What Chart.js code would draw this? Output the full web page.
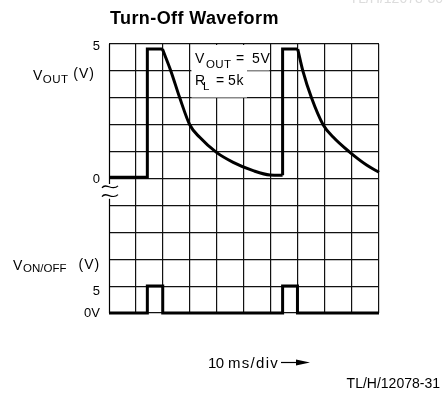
<!DOCTYPE html>
<html>
<head>
<meta charset="utf-8">
<title>Turn-Off Waveform</title>
<script src="https://cdn.jsdelivr.net/npm/chart.js@4.4.1/dist/chart.umd.min.js"></script>
<style>
  html, body { margin: 0; padding: 0; background: #fff; }
  #wrap { width: 446px; height: 394px; }
</style>
</head>
<body>
<div id="wrap"><canvas id="scope" width="446" height="394"></canvas></div>
<script>
/* ---------- Data (time in ms, 10 ms/div; volts) ---------- */
// V_OUT step up on each enable pulse
const rise1T = [0, 14.2, 14.2, 19.8];
const rise1V = [0.05, 0.05, 4.81, 4.81];
const rise2T = [64.3, 64.3, 69.9];
const rise2V = [0.12, 4.81, 4.81];

// V_OUT decay after turn-off (R_L = 5k)
const decay1T = [19.8, 22.9, 26.2, 29.9, 33.6, 39.8, 46.0, 53.4, 59.6, 64.3];
const decay1V = [4.81, 4.0, 3.0, 2.0, 1.53, 0.97, 0.6, 0.29, 0.13, 0.12];
const decay2T = [69.9, 71.8, 75.0, 79.3, 83.1, 88.9, 95.4, 100];
const decay2V = [4.81, 4.0, 3.0, 2.0, 1.53, 1.0, 0.5, 0.23];

// ON/OFF control pulses
const onOffT = [0, 14.2, 14.2, 19.9, 19.9, 64.3, 64.3, 69.8, 69.8, 100];
const onOffV = [0, 0, 5, 5, 0, 0, 5, 5, 0, 0];

// tick labels on the left edge
const voutTicks = [5, 0];
const voutTickLabels = ["5", "0"];
const onOffTicks = [5, 0];
const onOffTickLabels = ["5", "0V"];

const FONT = "'Liberation Sans', Arial, sans-serif";

function pts(t, v) {
    return t.map((x, i) => ({ x, y: v[i] }));
}

function trace(t, v, axis, smooth) {
    return {
        data: pts(t, v),
        yAxisID: axis,
        borderColor: "#000",
        borderWidth: 3,
        pointRadius: 0,
        fill: false,
        clip: false,
        borderJoinStyle: "miter",
        cubicInterpolationMode: smooth ? "monotone" : "default",
        tension: 0
    };
}

/* ---------- text helpers ---------- */
function txt(ctx, s, x, y, px, align, weight, spacing) {
    ctx.font = (weight || "normal") + " " + px + "px " + FONT;
    ctx.letterSpacing = (spacing || 0) + "px";
    ctx.textAlign = align || "left";
    ctx.textBaseline = "alphabetic";
    ctx.fillStyle = "#000";
    ctx.fillText(s, x, y);
    ctx.letterSpacing = "0px";
}

/* ---------- decorations ---------- */
const scopeDecor = {
    id: "scopeDecor",
    beforeDatasetsDraw(chart) {
        const ctx = chart.ctx;
        const a = chart.chartArea;
        const yo = chart.scales.yOut;
        ctx.save();

        // left border with break below the V_OUT zero line
        const brkTop = yo.getPixelForValue(-0.2);
        const brkBot = yo.getPixelForValue(-0.75);
        ctx.strokeStyle = "#000";
        ctx.lineWidth = 1.2;
        ctx.beginPath();
        ctx.moveTo(a.left + 0.5, a.top);
        ctx.lineTo(a.left + 0.5, brkTop);
        ctx.moveTo(a.left + 0.5, brkBot);
        ctx.lineTo(a.left + 0.5, a.bottom);
        ctx.stroke();
        [brkTop + 3, brkBot - 3].forEach(y => {
            ctx.beginPath();
            ctx.moveTo(a.left - 7, y + 1);
            ctx.bezierCurveTo(a.left - 3, y - 5, a.left + 3, y + 5, a.left + 9, y - 1);
            ctx.stroke();
        });

        // annotation block over the grid
        ctx.fillStyle = "#fff";
        ctx.fillRect(191.5, 45, 78, 25.5);
        ctx.fillRect(191.5, 70, 55.5, 27.5);
        txt(ctx, "V", 195, 62.5, 14);
        txt(ctx, "OUT", 206, 68, 11.5, "left", "normal", 0.4);
        txt(ctx, "=", 236, 62.5, 14);
        txt(ctx, "5V", 252, 62.5, 14, "left", "normal", 0.6);
        txt(ctx, "R", 195, 85, 14);
        txt(ctx, "L", 203, 90, 11.5);
        txt(ctx, "=", 216, 85, 14);
        txt(ctx, "5k", 228, 85, 14, "left", "normal", 0.6);
        ctx.restore();
    },
    afterDraw(chart) {
        const ctx = chart.ctx;
        const yo = chart.scales.yOut;
        const yc = chart.scales.yOnOff;
        ctx.save();

        // title
        txt(ctx, "Turn-Off Waveform", 110, 24, 18, "left", "bold", 0.4);

        // axis names
        txt(ctx, "V", 33, 80, 14);
        txt(ctx, "OUT", 42.7, 82.7, 11.5, "left", "normal", 0.5);
        txt(ctx, "(V)", 73.3, 78, 14, "left", "normal", 1);
        txt(ctx, "V", 13, 270, 14);
        txt(ctx, "ON/OFF", 23, 272, 11.5);
        txt(ctx, "(V)", 78.5, 269, 14, "left", "normal", 1);

        // tick labels from the two vertical scales
        const voutDy = [6, 4];
        voutTicks.forEach((v, i) => {
            txt(ctx, voutTickLabels[i], 100, yo.getPixelForValue(v) + voutDy[i], 13, "right");
        });
        const onOffDy = [8.5, 3.7];
        onOffTicks.forEach((v, i) => {
            txt(ctx, onOffTickLabels[i], 100, yc.getPixelForValue(v) + onOffDy[i], 13, "right");
        });

        // time base caption with arrow
        txt(ctx, "10", 208, 368, 15, "left", "normal", -0.5);
        txt(ctx, "ms/div", 228, 368, 15, "left", "normal", 1.3);
        ctx.strokeStyle = "#000";
        ctx.lineWidth = 1.2;
        ctx.beginPath();
        ctx.moveTo(281, 362.5);
        ctx.lineTo(300, 362.5);
        ctx.stroke();
        ctx.fillStyle = "#000";
        ctx.beginPath();
        ctx.moveTo(310, 362.5);
        ctx.lineTo(296, 359.5);
        ctx.lineTo(296, 365.5);
        ctx.closePath();
        ctx.fill();

        txt(ctx, "TL/H/12078-31", 440, 388.3, 14, "right");
        ctx.fillStyle = "#dcdcdc";
        ctx.font = "14px " + FONT;
        ctx.textAlign = "right";
        ctx.fillText("TL/H/12078-30", 443, 3);
        ctx.restore();
    }
};

/* ---------- Chart ---------- */
function gridOpts(hideFirst) {
    return {
        color: c => (hideFirst && c.index === 0) ? "rgba(0,0,0,0)" : "#111",
        lineWidth: 1.2,
        drawTicks: false
    };
}

function init() {
    const ctx = document.getElementById("scope").getContext("2d");
    new Chart(ctx, {
        type: "line",
        data: {
            datasets: [
                trace(rise1T, rise1V, "yOut", false),
                trace(decay1T, decay1V, "yOut", true),
                trace(rise2T, rise2V, "yOut", false),
                trace(decay2T, decay2V, "yOut", true),
                trace(onOffT, onOffV, "yOnOff", false)
            ]
        },
        options: {
            responsive: false,
            animation: false,
            devicePixelRatio: 1,
            layout: { padding: { left: 109, right: 67, top: 44, bottom: 81 } },
            plugins: { legend: { display: false }, tooltip: { enabled: false } },
            scales: {
                x: {
                    type: "linear",
                    min: 0, max: 100,
                    ticks: { display: false, stepSize: 10 },
                    grid: gridOpts(true),
                    border: { display: false },
                    afterFit: s => { s.height = 0; }
                },
                yOut: {
                    type: "linear",
                    position: "left",
                    min: -5, max: 5,
                    ticks: { display: false, stepSize: 1 },
                    grid: gridOpts(false),
                    border: { display: false },
                    afterFit: s => { s.width = 0; }
                },
                yOnOff: {
                    type: "linear",
                    position: "left",
                    min: 0, max: 50,
                    display: false
                }
            }
        },
        plugins: [scopeDecor]
    });
}

document.addEventListener("DOMContentLoaded", init);
</script>
</body>
</html>
